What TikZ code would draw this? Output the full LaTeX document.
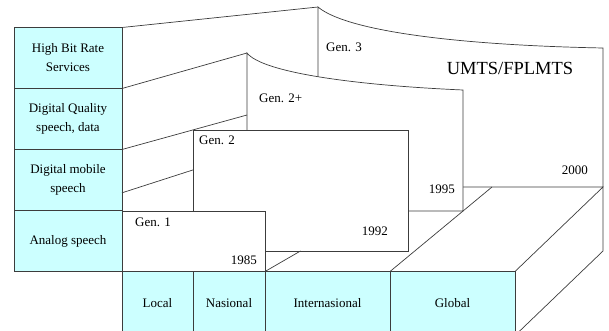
\documentclass[tikz,border=0pt]{standalone}
\usepackage{fontspec}
\setmainfont{Liberation Serif}
\usetikzlibrary{calc,positioning}
\definecolor{cellcyan}{HTML}{CCFFFF}
\definecolor{edgegray}{HTML}{3C3C3C}
\tikzset{
	grid line/.style={draw=edgegray, line width=.7pt},
	cell/.style={grid line, fill=cellcyan, inner sep=0pt, outer sep=0pt,
		align=center, font=\fontsize{13}{19}\selectfont},
	row cell/.style={cell, minimum width=108pt, minimum height=61pt},
	scope cell/.style={cell, minimum height=64pt},
	gen box/.style={grid line, fill=white, inner sep=0pt, outer sep=0pt},
	gen label/.style={inner sep=0pt, font=\fontsize{13}{15}\selectfont},
	sys label/.style={inner sep=0pt, font=\fontsize{18.5}{20}\selectfont}
}

\begin{document}
\begin{tikzpicture}[x=1pt, y=-1pt]
   \path[use as bounding box, clip] (0,0) rectangle (609,331);
   % services (left column)
   \node[row cell] (hbr) at (68,58) {High Bit Rate\\Services};
   \node[row cell, below=0pt of hbr] (dqs) {Digital Quality\\speech, data};
   \node[row cell, below=0pt of dqs] (dms) {Digital mobile\\speech};
   \node[row cell, below=0pt of dms] (ana) {Analog speech};
   % coverage (bottom row)
   \node[scope cell, minimum width=71pt, anchor=north west] (local) at (ana.south east) {Local};
   \node[scope cell, minimum width=72pt, right=0pt of local] (nas) {Nasional};
   \node[scope cell, minimum width=125pt, right=0pt of nas] (inter) {Internasional};
   \node[scope cell, minimum width=125pt, right=0pt of inter] (glob) {Global};
   % generations, back to front
   \draw[gen box] (318,7) coordinate (g3nw) .. controls (345,30) and (450,45) .. (603,48) coordinate (g3ne)
      -- (603,187) coordinate (g3se) -- (318,187) -- cycle;
   \draw[gen box] (247,53) coordinate (g2pnw) .. controls (262,72) and (350,85) .. (463,90) coordinate (g2pne)
      -- (463,211) coordinate (g2pse) -- (247,211) -- cycle;
   \node[gen box, minimum width=215pt, minimum height=121pt, anchor=north west] (gen2) at (193,130) {};
   \node[gen box, minimum width=143pt, minimum height=60.5pt, anchor=south west] (gen1) at (local.north west) {};
   \coordinate (g2pw) at (247,115);
   \coordinate (gbk) at (492,187);
   \coordinate (sidelow) at (603,251);
   % perspective edges
   \draw[grid line] (hbr.north east) -- (g3nw);
   \draw[grid line] (hbr.south east) -- (g2pnw);
   \draw[grid line] (dqs.south east) -- (g2pw);
   \draw[grid line] ($(dms.north east)!.71!(dms.south east)$) -- ($(gen2.north west)!.33!(gen2.south west)$);
   \draw[grid line] (inter.north west) -- ($(gen2.south west)!.5!(gen2.south east)$);
   \draw[grid line] (glob.north west) -- (gbk);
   \draw[grid line] (glob.north east) -- (g3se) -- (sidelow) -- (glob.south east);
   % labels
   \node[gen label, anchor=west] at ($(gen1.north west)+(13,11)$) {Gen. 1};
   \node[gen label, anchor=east] at ($(gen1.south east)+(-8,-11.5)$) {1985};
   \node[gen label, anchor=west] at ($(gen2.north west)+(6,10)$) {Gen. 2};
   \node[gen label, anchor=east] at ($(gen2.south east)+(-20,-20)$) {1992};
   \node[gen label, anchor=west] at ($(g2pnw)+(12,45)$) {Gen. 2+};
   \node[gen label, anchor=east] at ($(g2pse)+(-8,-22)$) {1995};
   \node[gen label, anchor=west] at ($(g3nw)+(8,40)$) {Gen. 3};
   \node[sys label] (umts) at (510,68) {UMTS/FPLMTS};
   \node[gen label, anchor=east] at ($(g3se)+(-15,-17)$) {2000};
\end{tikzpicture}
\end{document}
